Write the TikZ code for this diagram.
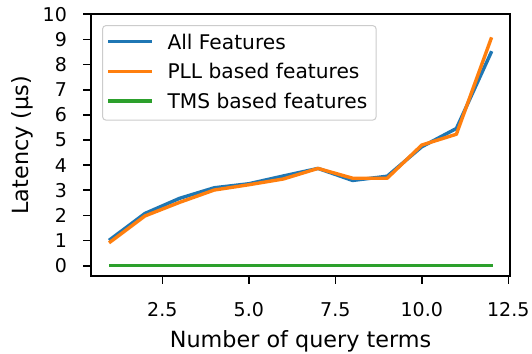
\documentclass[tikz,border=0pt]{standalone}
\usepackage{fontspec}
\setmainfont{DejaVu Sans}
\definecolor{tabblue}{HTML}{1F77B4}
\definecolor{taborange}{HTML}{FF7F0E}
\definecolor{tabgreen}{HTML}{2CA02C}
\definecolor{legedge}{HTML}{CCCCCC}
\tikzset{
  spine/.style={draw=black, line width=1.6pt},
  tickmark/.style={draw=black, line width=1.6pt},
  series/.style={line width=3.4pt, line join=round, line cap=rect},
  ticklab/.style={inner sep=0pt, font=\fontsize{19}{21}\selectfont},
  axlab/.style={inner sep=0pt, font=\fontsize{22.3}{24}\selectfont},
  leglab/.style={inner sep=0pt, anchor=base west, font=\fontsize{20.2}{22}\selectfont},
}
\begin{document}
\begin{tikzpicture}[x=1pt,y=-1pt]
\useasboundingbox (0,0) rectangle (532,353);
\fill[white] (0,0) rectangle (532,353);
% data
\begin{scope}[xshift=75.8pt, yshift=-265.7pt, x=34.6pt, y=25.14pt]
\draw[series, tabblue] (1,1.05) -- (2,2.08) -- (3,2.68) -- (4,3.10) -- (5,3.26) -- (6,3.57) -- (7,3.87) -- (8,3.39) -- (9,3.56) -- (10,4.73) -- (11,5.46) -- (12,8.47);
\draw[series, taborange] (1,0.95) -- (2,1.98) -- (3,2.52) -- (4,3.01) -- (5,3.22) -- (6,3.45) -- (7,3.87) -- (8,3.48) -- (9,3.48) -- (10,4.80) -- (11,5.23) -- (12,9.02);
\draw[series, tabgreen] (1,0.02) -- (2,0.02) -- (3,0.02) -- (4,0.02) -- (5,0.02) -- (6,0.02) -- (7,0.02) -- (8,0.02) -- (9,0.02) -- (10,0.02) -- (11,0.02) -- (12,0.02);
% y ticks
\foreach \v in {0,...,10} {
  \coordinate (yt\v) at (0.45,\v);
  \draw[tickmark] (yt\v) -- ++(-8pt,0);
  \node[ticklab, anchor=east] (ytl\v) at ([xshift=-24.3pt]yt\v) {\v};
}
% x ticks
\foreach \v/\t/\n in {2.5/2.5/a, 5/5.0/b, 7.5/7.5/c, 10/10.0/d, 12.5/12.5/e} {
  \coordinate (xt\n) at (\v,-0.41);
  \draw[tickmark] (xt\n) -- ++(0,-8pt);
  \node[ticklab, anchor=base] (xtl\n) at ([yshift=-40.7pt]xt\n) {\t};
}
\end{scope}
% spines
\draw[spine] (91,14.3) rectangle (510,276);
% axis labels
\node[axlab, anchor=base] (xlabel) at (300.5,347.3) {Number of query terms};
\node[axlab, anchor=base, rotate=90] (ylabel) at (28.3,145.2) {Latency (μs)};
% legend
\draw[legedge, fill=white, fill opacity=0.8, line width=1pt, rounded corners=3pt] (102.7,25.7) rectangle (376,120);
\draw[series, tabblue, line cap=butt] (108.3,41.7) -- (151.7,41.7);
\draw[series, taborange, line cap=butt] (108.3,71.3) -- (151.7,71.3);
\draw[series, tabgreen, line cap=butt] (108.3,101) -- (151.7,101);
\node[leglab] (l1) at (167.3,49.2) {All Features};
\node[leglab] (l2) at (167.3,78.7) {PLL based features};
\node[leglab] (l3) at (167.3,108.4) {TMS based features};
\end{tikzpicture}
\end{document}
